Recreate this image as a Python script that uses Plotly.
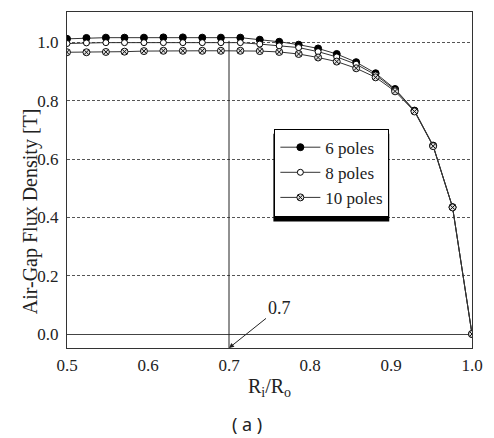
import plotly.graph_objects as go

# ---- data ----
ratio = [0.500, 0.524, 0.548, 0.571, 0.595, 0.619, 0.643, 0.667, 0.690, 0.714, 0.738,
         0.762, 0.786, 0.810, 0.833, 0.857, 0.881, 0.905, 0.929, 0.952, 0.976, 1.000]
b_6poles = [1.012, 1.015, 1.016, 1.016, 1.016, 1.017, 1.017, 1.016, 1.016, 1.016, 1.009,
            1.002, 0.992, 0.979, 0.960, 0.932, 0.894, 0.840, 0.766, 0.646, 0.435, 0.0]
b_8poles = [0.996, 0.998, 0.999, 0.999, 0.999, 0.999, 0.999, 0.999, 0.999, 0.999, 0.994,
            0.988, 0.982, 0.968, 0.950, 0.925, 0.888, 0.837, 0.765, 0.645, 0.435, 0.0]
b_10poles = [0.966, 0.966, 0.967, 0.968, 0.970, 0.971, 0.971, 0.971, 0.971, 0.971, 0.970,
             0.967, 0.960, 0.948, 0.934, 0.911, 0.880, 0.832, 0.763, 0.644, 0.434, 0.0]
series_names = ["6 poles", "8 poles", "10 poles"]
x_ticks = [0.5, 0.6, 0.7, 0.8, 0.9, 1.0]
x_tick_labels = ["0.5", "0.6", "0.7", "0.8", "0.9", "1.0"]
y_ticks = [0.0, 0.2, 0.4, 0.6, 0.8, 1.0]
y_tick_labels = ["0.0", "0.2", "0.4", "0.6", "0.8", "1.0"]
marked_ratio = 0.7
marked_label = "0.7"

SERIF = "Liberation Serif"
W, H = 494, 438
ML, MR, MT, MB = 67, 11, 11, 90
PW, PH = W - ML - MR, H - MT - MB
Y_RANGE = [-0.048, 1.104]


def px_to_paper(px, py):
    return (px - ML) / PW, (H - MB - py) / PH


fig = go.Figure()
styles = [
    dict(symbol="circle", size=7, color="black", line=dict(color="black", width=1)),
    dict(symbol="circle", size=6, color="white", line=dict(color="black", width=1)),
    dict(symbol="circle-x", size=7, color="#e0e0e0", line=dict(color="#111111", width=1)),
]
for name, ys, mk in zip(series_names, [b_6poles, b_8poles, b_10poles], styles):
    fig.add_trace(go.Scatter(
        x=ratio, y=ys, name=name, mode="lines+markers",
        line=dict(color="#333333", width=1), marker=mk,
    ))

# vertical marker line at R_i/R_o = 0.7
fig.add_shape(type="line", xref="x", yref="y", x0=marked_ratio, x1=marked_ratio,
              y0=Y_RANGE[0], y1=1.005, line=dict(color="#222222", width=1), layer="above")

# legend box position (px) and its drop shadow
LEG_L, LEG_T = 280, 128
SH_L, SH_T, SH_R, SH_B = 279, 133, 398, 221
lx0, ly0 = px_to_paper(SH_L, SH_T)
lx1, ly1 = px_to_paper(SH_R, SH_B)
fig.add_shape(type="rect", xref="paper", yref="paper", x0=lx0, x1=lx1, y0=ly1, y1=ly0,
              fillcolor="black", line=dict(width=0), layer="above")

ax_, ay_ = px_to_paper(16, 211)
cx_, cy_ = px_to_paper(252, 424)
fig.add_annotation(text="Air-Gap Flux Density [T]", xref="paper", yref="paper",
                   x=ax_, y=ay_, textangle=-90, showarrow=False,
                   font=dict(family=SERIF, size=20, color="#222222"))
fig.add_annotation(text="( a )", xref="paper", yref="paper", x=cx_, y=cy_,
                   showarrow=False, yanchor="middle",
                   font=dict(family="Noto Sans", size=18, color="#222222"))
fig.add_annotation(text=marked_label, x=marked_ratio, y=Y_RANGE[0], xref="x", yref="y",
                   showarrow=True, arrowhead=2, arrowsize=1, arrowwidth=1,
                   arrowcolor="#222222", ax=50, ay=-40,
                   font=dict(family=SERIF, size=18, color="#222222"))

lgx, lgy = px_to_paper(LEG_L, LEG_T)
fig.update_layout(
    width=W, height=H,
    margin=dict(l=ML, r=MR, t=MT, b=MB, pad=0),
    paper_bgcolor="white", plot_bgcolor="white",
    font=dict(family=SERIF, size=17, color="#222222"),
    showlegend=True,
    legend=dict(x=lgx, y=lgy, xanchor="left", yanchor="top",
                bgcolor="white", bordercolor="black", borderwidth=1,
                font=dict(family=SERIF, size=17, color="#222222"),
                itemwidth=40, tracegroupgap=0),
    xaxis=dict(range=[0.5, 1.0], tickvals=x_ticks, ticktext=x_tick_labels,
               showgrid=False, zeroline=False, showline=True, mirror=True,
               linecolor="#333333", linewidth=1, ticks="", ticklabelstandoff=2,
               tickfont=dict(family=SERIF, size=17),
               title=dict(text="R<sub>i</sub>/R<sub>o</sub>",
                          font=dict(family=SERIF, size=20), standoff=4)),
    yaxis=dict(range=Y_RANGE, tickvals=y_ticks, ticktext=y_tick_labels,
               showgrid=True, gridcolor="#555555", gridwidth=1, griddash="3px,2px",
               zeroline=True, zerolinecolor="#444444", zerolinewidth=1,
               showline=True, mirror=True, linecolor="#333333", linewidth=1, ticks="",
               ticklabelstandoff=4,
               tickfont=dict(family=SERIF, size=17)),
)

fig.write_html("out.html")
